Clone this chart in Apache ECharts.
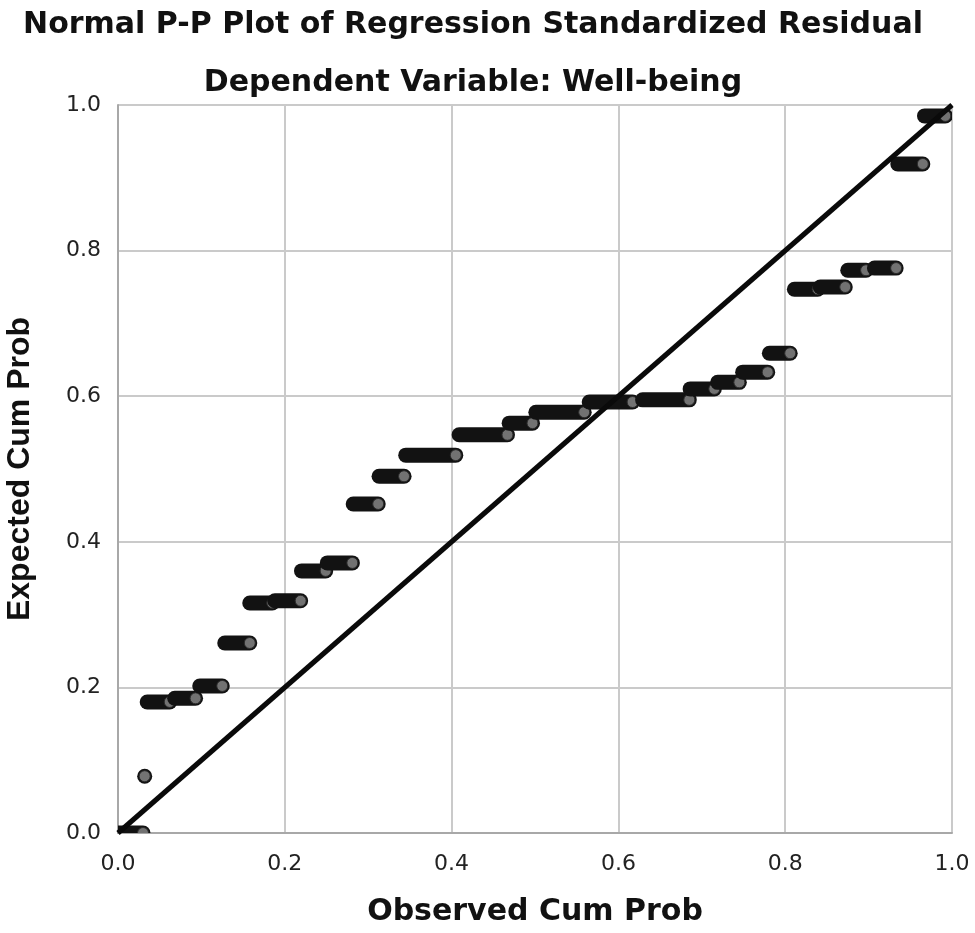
<!DOCTYPE html>
<html>
<head>
<meta charset="utf-8">
<script src="https://cdn.jsdelivr.net/npm/echarts@6/dist/echarts.min.js"></script>
<style>
  html, body { margin: 0; padding: 0; background: #fff; }
  #main { width: 975px; height: 933px; }
</style>
</head>
<body>
<div id="main"></div>
<script>
// runs of overlapping points: observed cum prob from start to end, all at one expected value
const runStartX = [0.000, 0.032, 0.035, 0.068, 0.098, 0.128, 0.158, 0.188, 0.220, 0.251, 0.282, 0.313, 0.345,
  0.409, 0.469, 0.501, 0.565, 0.629, 0.686, 0.719, 0.749, 0.781, 0.811, 0.842, 0.875, 0.907, 0.935, 0.967];
const runEndX = [0.030, 0.032, 0.062, 0.093, 0.125, 0.158, 0.185, 0.219, 0.249, 0.281, 0.312, 0.343, 0.405,
  0.467, 0.497, 0.559, 0.617, 0.685, 0.715, 0.745, 0.779, 0.806, 0.839, 0.872, 0.897, 0.933, 0.965, 0.992];
const runY = [0.000, 0.078, 0.180, 0.185, 0.202, 0.261, 0.316, 0.319, 0.360, 0.371, 0.452, 0.490, 0.519,
  0.547, 0.563, 0.578, 0.592, 0.595, 0.610, 0.619, 0.633, 0.659, 0.747, 0.750, 0.773, 0.776, 0.919, 0.985];
const refLine = [[0, 0], [1, 1]];

const runs = runY.map(function (y, i) { return [runStartX[i], runEndX[i], y]; });

const chart = echarts.init(document.getElementById('main'));
const labelFont = { fontFamily: 'DejaVu Sans', fontSize: 22, color: '#222' };
const boldFont = { fontFamily: 'DejaVu Sans', fontWeight: 'bold', color: '#111' };

const option = {
  backgroundColor: '#fff',
  animation: false,
  title: [{
    text: 'Normal P-P Plot of Regression Standardized Residual',
    left: 468, top: 5, textAlign: 'center',
    textStyle: Object.assign({ fontSize: 30 }, boldFont)
  }, {
    text: 'Dependent Variable: Well-being',
    left: 468, top: 63, textAlign: 'center',
    textStyle: Object.assign({ fontSize: 30 }, boldFont)
  }],
  grid: { left: 118, right: 23, top: 105, bottom: 100, outerBoundsMode: 'none' },
  xAxis: {
    type: 'value', min: 0, max: 1, interval: 0.2,
    name: 'Observed Cum Prob', nameLocation: 'middle', nameGap: 64,
    nameTextStyle: Object.assign({ fontSize: 30 }, boldFont),
    axisLine: { show: true, lineStyle: { color: '#a8a8a8', width: 2 } },
    axisTick: { show: false },
    axisLabel: Object.assign({ margin: 20, formatter: function (v) { return v.toFixed(1); } }, labelFont),
    splitLine: { show: true, lineStyle: { color: '#cacaca', width: 2 } }
  },
  yAxis: {
    type: 'value', min: 0, max: 1, interval: 0.2,
    name: 'Expected Cum Prob', nameLocation: 'middle', nameGap: 82,
    nameTextStyle: { fontFamily: 'Liberation Sans', fontWeight: 'bold', fontSize: 32, color: '#111' },
    axisLine: { show: true, lineStyle: { color: '#a8a8a8', width: 2 } },
    axisTick: { show: false },
    axisLabel: Object.assign({ margin: 17, formatter: function (v) { return v.toFixed(1); } }, labelFont),
    splitLine: { show: true, lineStyle: { color: '#cacaca', width: 2 } }
  },
  series: [{
    type: 'custom',
    clip: true,
    data: runs,
    encode: { x: [0, 1], y: 2 },
    renderItem: function (params, api) {
      const a = api.coord([api.value(0), api.value(2)]);
      const b = api.coord([api.value(1), api.value(2)]);
      return {
        type: 'group',
        children: [{
          type: 'line',
          shape: { x1: a[0], y1: a[1], x2: b[0] + 0.01, y2: b[1] },
          style: { stroke: '#121212', lineWidth: 15, lineCap: 'round' }
        }, {
          type: 'circle',
          shape: { cx: b[0], cy: b[1], r: 5.5 },
          style: { fill: '#727272', stroke: '#2a2a2a', lineWidth: 1 }
        }]
      };
    }
  }, {
    type: 'line',
    data: refLine,
    symbol: 'none',
    z: 5,
    lineStyle: { color: '#0a0a0a', width: 5 }
  }]
};
chart.setOption(option);
</script>
</body>
</html>
